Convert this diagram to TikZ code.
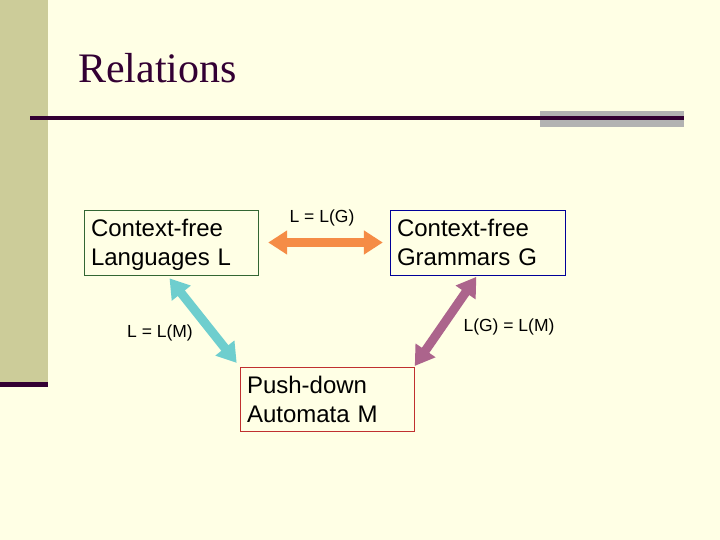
\documentclass[tikz,border=0pt]{standalone}
\usepackage{amsmath}
\usepackage{fontspec}
\setmainfont{Liberation Serif}
\setsansfont{Liberation Sans}
\usepackage{tikz}
\usetikzlibrary{arrows.meta,positioning}
\definecolor{slidebg}{RGB}{255,255,229}
\definecolor{sidebar}{RGB}{204,204,153}
\definecolor{plum}{RGB}{51,0,51}
\definecolor{rulegray}{RGB}{178,178,178}
\definecolor{boxgreen}{RGB}{51,102,51}
\definecolor{boxblue}{RGB}{0,0,153}
\definecolor{boxred}{RGB}{192,48,48}
\definecolor{arrorange}{RGB}{245,140,70}
\definecolor{arrcyan}{RGB}{110,206,206}
\definecolor{arrmauve}{RGB}{172,100,140}
\tikzset{
  setbox/.style  = {draw, thin, fill=slidebg, text width=160pt, inner sep=7pt,
                    minimum height=65pt, align=left,
                    font=\sffamily\fontsize{24}{29}\selectfont},
  rel/.style     = {line width=9pt, {Triangle[length=19pt,width=23pt]}-{Triangle[length=19pt,width=23pt]}},
  rellabel/.style= {font=\sffamily\fontsize{17.5}{20}\selectfont},
}

\begin{document}
\begin{tikzpicture}[x=1pt,y=-1pt]
  \fill[slidebg] (0,0) rectangle (720,540);
  \useasboundingbox (0,0) rectangle (720,540);
  \fill[sidebar] (0,0) rectangle (48,383);
  \fill[plum] (0,382) rectangle (48,387);
  \fill[rulegray] (540,111) rectangle (684,127);
  \draw[plum, line width=3.5pt] (30,118) -- (684,118);
  \node[anchor=base west, text=plum, inner sep=0pt,
        font=\fontsize{42}{48}\selectfont] (title) at (78,83) {Relations};

  \node[setbox, draw=boxgreen] (lang) at (171,242.5) {Context-free\\\smash[b]{Languages L}};
  \node[setbox, draw=boxblue, text width=161pt] (gram) at (477.5,242.5) {Context-free\\\smash[b]{Grammars G}};
  \node[setbox, draw=boxred, minimum height=64pt] (pda) at (327,399) {Push-down\\Automata M};

  \draw[rel, arrorange, shorten <=10pt, shorten >=7pt] (lang.east) -- (gram.west);
  \draw[rel, arrcyan, shorten <=4pt, shorten >=5pt] ([xshift=-4pt]lang.south) -- (pda.north west);
  \draw[rel, arrmauve, shorten <=2pt, shorten >=1pt] (gram.south) -- (pda.north east);

  \node[rellabel] (lg) at (322,218) {L = L(G)};
  \node[rellabel] (lm) at (160,333) {L = L(M)};
  \node[rellabel] (gm) at (509,327) {L(G) = L(M)};
\end{tikzpicture}
\end{document}
